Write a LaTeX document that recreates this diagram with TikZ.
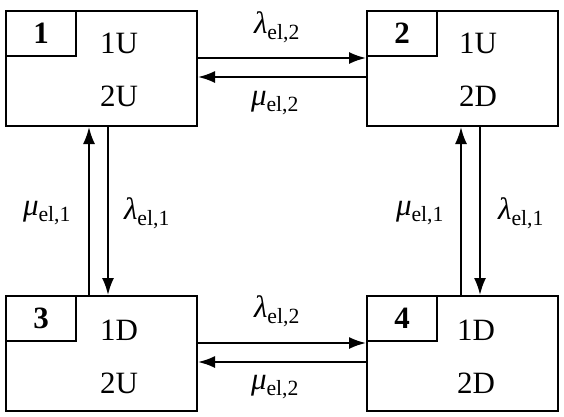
\documentclass[tikz,border=0pt]{standalone}
\usepackage{fontspec}
\setmainfont{Liberation Serif}
\usetikzlibrary{arrows.meta}
\newcommand{\rlab}[2]{{\itshape #1}\textsubscript{el,#2}}
\tikzset{
  state/.style={draw, line width=2pt, minimum width=191pt, minimum height=115pt, anchor=north west, inner sep=0pt},
  tag/.style={draw, line width=2pt, minimum width=70pt, minimum height=45pt, anchor=north west, inner sep=0pt, font=\fontsize{31}{36}\selectfont\bfseries},
  rate/.style={-{Latex[length=17pt,width=12pt]}, line width=2pt},
}
\begin{document}
\begin{tikzpicture}[x=1pt, y=-1pt, font=\fontsize{31}{36}\selectfont]
		\useasboundingbox (0,0) rectangle (564,416);
		% states
		\node[state] (s1) at (5,10) {};
		\node[state] (s2) at (366,10) {};
		\node[state] (s3) at (5,295) {};
		\node[state] (s4) at (366,295) {};
		\node[tag] (t1) at (s1.north west) {1};
		\node[tag] (t2) at (s2.north west) {2};
		\node[tag] (t3) at (s3.north west) {3};
		\node[tag] (t4) at (s4.north west) {4};
		\node (a1) at ([xshift=114pt,yshift=-33pt]s1.north west) {1U};
		\node (b1) at ([xshift=114pt,yshift=-86pt]s1.north west) {2U};
		\node (a2) at ([xshift=112pt,yshift=-33pt]s2.north west) {1U};
		\node (b2) at ([xshift=112pt,yshift=-86pt]s2.north west) {2D};
		\node (a3) at ([xshift=114pt,yshift=-35pt]s3.north west) {1D};
		\node (b3) at ([xshift=114pt,yshift=-88pt]s3.north west) {2U};
		\node (a4) at ([xshift=110pt,yshift=-35pt]s4.north west) {1D};
		\node (b4) at ([xshift=110pt,yshift=-88pt]s4.north west) {2D};
		% transitions
		\draw[rate] ([yshift=10.5pt]s1.east) -- ([yshift=10.5pt]s2.west);
		\draw[rate] ([yshift=-8.5pt]s2.west) -- ([yshift=-8.5pt]s1.east);
		\draw[rate] ([yshift=10.5pt]s3.east) -- ([yshift=10.5pt]s4.west);
		\draw[rate] ([yshift=-8.5pt]s4.west) -- ([yshift=-8.5pt]s3.east);
		\draw[rate] ([xshift=-12.5pt]s3.north) -- ([xshift=-12.5pt]s1.south);
		\draw[rate] ([xshift=6.5pt]s1.south) -- ([xshift=6.5pt]s3.north);
		\draw[rate] ([xshift=-1.5pt]s4.north) -- ([xshift=-1.5pt]s2.south);
		\draw[rate] ([xshift=17.5pt]s2.south) -- ([xshift=17.5pt]s4.north);
		% rates
		\node (l12) at (277,27) {\rlab{λ}{2}};
		\node (m12) at (275,103) {\rlab{μ}{2}};
		\node (l34) at (277,311) {\rlab{λ}{2}};
		\node (m34) at (275,387) {\rlab{μ}{2}};
		\node (m13) at (47,213) {\rlab{μ}{1}};
		\node (l13) at (147,213) {\rlab{λ}{1}};
		\node (m24) at (420,213) {\rlab{μ}{1}};
		\node (l24) at (521,213) {\rlab{λ}{1}};
\end{tikzpicture}
\end{document}
